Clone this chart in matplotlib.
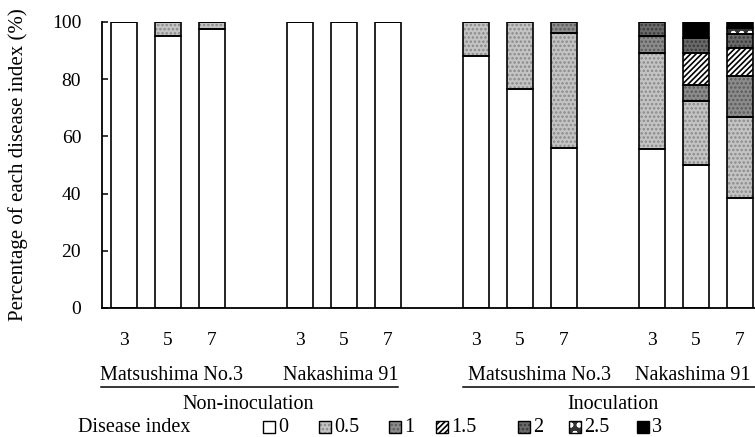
import matplotlib
matplotlib.use("Agg")
import matplotlib.pyplot as plt
import matplotlib.transforms as mtransforms
from matplotlib.patches import Rectangle
import numpy as np

plt.rcParams['font.family'] = ['Liberation Serif', 'DejaVu Serif']
plt.rcParams['hatch.linewidth'] = 1.2

# ---- data ----
days = ["3", "5", "7", "3", "5", "7", "3", "5", "7", "3", "5", "7"]
positions = [0, 1, 2, 4, 5, 6, 8, 9, 10, 12, 13, 14]
cultivars = ["Matsushima No.3", "Nakashima 91", "Matsushima No.3", "Nakashima 91"]
treatments = ["Non-inoculation", "Inoculation"]
index_labels = ["0", "0.5", "1", "1.5", "2", "2.5", "3"]

idx_0   = [100, 95, 97.5, 100, 100, 100, 88, 76.5, 56, 55.5, 50, 38.3]
idx_0_5 = [0, 5, 2.5, 0, 0, 0, 12, 23.5, 40, 33.5, 22.4, 28.6]
idx_1   = [0, 0, 0, 0, 0, 0, 0, 0, 4, 6, 5.5, 14.1]
idx_1_5 = [0, 0, 0, 0, 0, 0, 0, 0, 0, 0, 11.1, 9.8]
idx_2   = [0, 0, 0, 0, 0, 0, 0, 0, 0, 5, 5.3, 4.9]
idx_2_5 = [0, 0, 0, 0, 0, 0, 0, 0, 0, 0, 0, 2.1]
idx_3   = [0, 0, 0, 0, 0, 0, 0, 0, 0, 0, 5.7, 2.2]
series = [idx_0, idx_0_5, idx_1, idx_1_5, idx_2, idx_2_5, idx_3]

# style per index: (facecolor, hatch, hatch colour)
styles = [
    ("white", None, "black"),
    ("#c4c4c4", "....", "#8a8a8a"),
    ("#8c8c8c", "....", "#5a5a5a"),
    ("white", "//////", "black"),
    ("#6a6a6a", "....", "#3a3a3a"),
    ("#333333", "oo", "white"),
    ("black", None, "black"),
]

W, H = 755, 437
fig = plt.figure(figsize=(W / 100, H / 100), dpi=100)
ax = fig.add_axes([102 / W, (H - 308) / H, (W - 102) / W, 286 / H])

bottom = np.zeros(len(positions))
for vals, (fc, hatch, hc) in zip(series, styles):
    v = np.array(vals, dtype=float)
    ax.bar(positions, v, width=0.59, bottom=bottom, color=fc, hatch=hatch,
           edgecolor=hc, linewidth=0, zorder=2)
    ax.bar(positions, v, width=0.59, bottom=bottom, fill=False,
           edgecolor="black", linewidth=1.2, zorder=3)
    bottom += v

ax.set_xlim(-0.5, 14.34)
ax.set_ylim(0, 100)
ax.set_yticks([0, 20, 40, 60, 80, 100])
ax.tick_params(axis='y', direction='in', length=4.5, width=1.1, labelsize=14, pad=15)
ax.set_xticks(positions)
ax.set_xticklabels(days)
ax.tick_params(axis='x', length=0, labelsize=14, pad=17)
for s in ["top", "right"]:
    ax.spines[s].set_visible(False)
for s in ["left", "bottom"]:
    ax.spines[s].set_linewidth(1.3)
ax.set_ylabel("Percentage of each disease index (%)", fontsize=15)
ax.yaxis.set_label_coords(-74 / 653, 0.5)

trans = mtransforms.blended_transform_factory(ax.transData, fig.transFigure)
cult_x = [1.09, 4.93, 9.45, 12.93]
for cx, name in zip(cult_x, cultivars):
    ax.text(cx, (H - 380.5) / H, name, transform=trans, ha='center', va='baseline',
            fontsize=14.5, clip_on=False)
line_y = (H - 386.5) / H
ax.plot([-0.52, 6.23], [line_y, line_y], transform=trans, color='black', lw=1.1, clip_on=False)
ax.plot([7.70, 14.5], [line_y, line_y], transform=trans, color='black', lw=1.1, clip_on=False)
treat_x = [2.82, 11.11]
for tx, name in zip(treat_x, treatments):
    ax.text(tx, (H - 409) / H, name, transform=trans, ha='center', va='baseline',
            fontsize=14.5, clip_on=False)

# legend
base = H - 432.5
fig.text(78 / W, base / H, "Disease index", fontsize=14.5, ha='left', va='baseline')
leg_x = [263, 319, 389, 436, 518, 569, 637]
for lx, lab, (fc, hatch, hc) in zip(leg_x, index_labels, styles):
    r = Rectangle((lx / W, (base - 0.5) / H), 12 / W, 12 / H, transform=fig.transFigure,
                  facecolor=fc, hatch=hatch, edgecolor=hc, linewidth=0)
    fig.add_artist(r)
    r2 = Rectangle((lx / W, (base - 0.5) / H), 12 / W, 12 / H, transform=fig.transFigure,
                   fill=False, edgecolor='black', linewidth=1.0)
    fig.add_artist(r2)
    fig.text((lx + 15) / W, base / H, lab, fontsize=14.5, ha='left', va='baseline')

fig.savefig("out.png", dpi=100)
